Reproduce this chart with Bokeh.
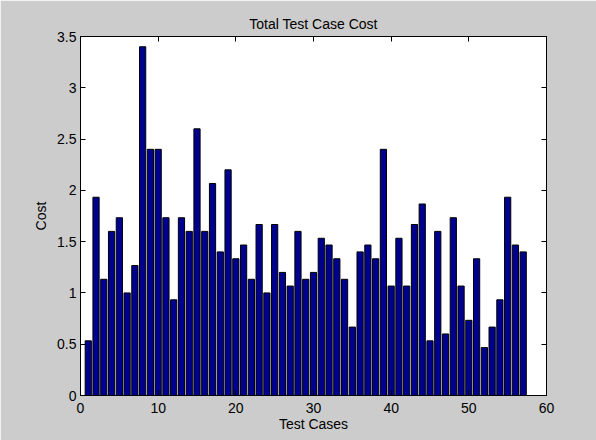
from bokeh.plotting import figure
from bokeh.models import LinearAxis, FixedTicker, NumeralTickFormatter, Range1d, CustomJSTickFormatter
from bokeh.embed import file_html
from bokeh.resources import INLINE

# ---- data ----
cases = list(range(1, 58))
cost = [0.533, 1.933, 1.133, 1.6, 1.733, 1.0, 1.267, 3.4, 2.4, 2.4,
        1.733, 0.933, 1.733, 1.6, 2.6, 1.6, 2.067, 1.4, 2.2, 1.333,
        1.467, 1.133, 1.667, 1.0, 1.667, 1.2, 1.067, 1.6, 1.133, 1.2,
        1.533, 1.467, 1.333, 1.133, 0.667, 1.4, 1.467, 1.333, 2.4, 1.067,
        1.533, 1.067, 1.667, 1.867, 0.533, 1.6, 0.6, 1.733, 1.067, 0.733,
        1.333, 0.467, 0.667, 0.933, 1.933, 1.467, 1.4]
x_ticks = [0, 10, 20, 30, 40, 50, 60]
y_ticks = [0, 0.5, 1, 1.5, 2, 2.5, 3, 3.5]
title_text = "Total Test Case Cost"
x_label = "Test Cases"
y_label = "Cost"

FONT = "Liberation Sans"
FS = "14px"

p = figure(width=596, height=440, output_backend="svg", toolbar_location=None,
           x_range=Range1d(0, 60), y_range=Range1d(0, 3.5),
           x_axis_location=None, y_axis_location=None,
           min_border_left=80, min_border_right=50,
           min_border_top=36, min_border_bottom=45)

p.background_fill_color = "#ffffff"
p.border_fill_color = "#cccccc"
p.outline_line_color = "#000000"
p.outline_line_width = 1
p.xgrid.visible = False
p.ygrid.visible = False

p.title.text = title_text
p.title.align = "center"
p.title.text_font = FONT
p.title.text_font_size = FS
p.title.text_font_style = "normal"
p.title.text_color = "#000000"
p.title.standoff = 10

p.vbar(x=cases, top=cost, width=0.8, bottom=0,
       fill_color="#00008f", line_color="#000000", line_width=1)

bottom_ax = LinearAxis(axis_label=x_label)
left_ax = LinearAxis(axis_label=y_label)
top_ax = LinearAxis()
right_ax = LinearAxis()
p.add_layout(bottom_ax, "below")
p.add_layout(left_ax, "left")
p.add_layout(top_ax, "above")
p.add_layout(right_ax, "right")


def style(ax, ticks, labels=True):
    ax.ticker = FixedTicker(ticks=ticks)
    ax.major_tick_in = 5
    ax.major_tick_out = 0
    ax.minor_tick_in = 0
    ax.minor_tick_out = 0
    ax.axis_line_color = "#000000"
    ax.major_tick_line_color = "#000000"
    ax.major_label_text_font = FONT
    ax.major_label_text_color = "#000000"
    ax.major_label_text_font_size = FS
    if labels:
        ax.formatter = NumeralTickFormatter(format="0.[0]")
    else:
        ax.formatter = CustomJSTickFormatter(code="return ''")
        ax.major_label_standoff = 0


style(bottom_ax, x_ticks)
style(left_ax, y_ticks)
style(top_ax, x_ticks, labels=False)
style(right_ax, y_ticks, labels=False)
bottom_ax.major_label_standoff = 7
left_ax.major_label_standoff = 4

for ax in (bottom_ax, left_ax):
    ax.axis_label_text_font = FONT
    ax.axis_label_text_font_size = FS
    ax.axis_label_text_font_style = "normal"
    ax.axis_label_text_color = "#000000"
bottom_ax.axis_label_standoff = 0
left_ax.axis_label_standoff = 5

open("out.html", "w").write(file_html(p, INLINE))
